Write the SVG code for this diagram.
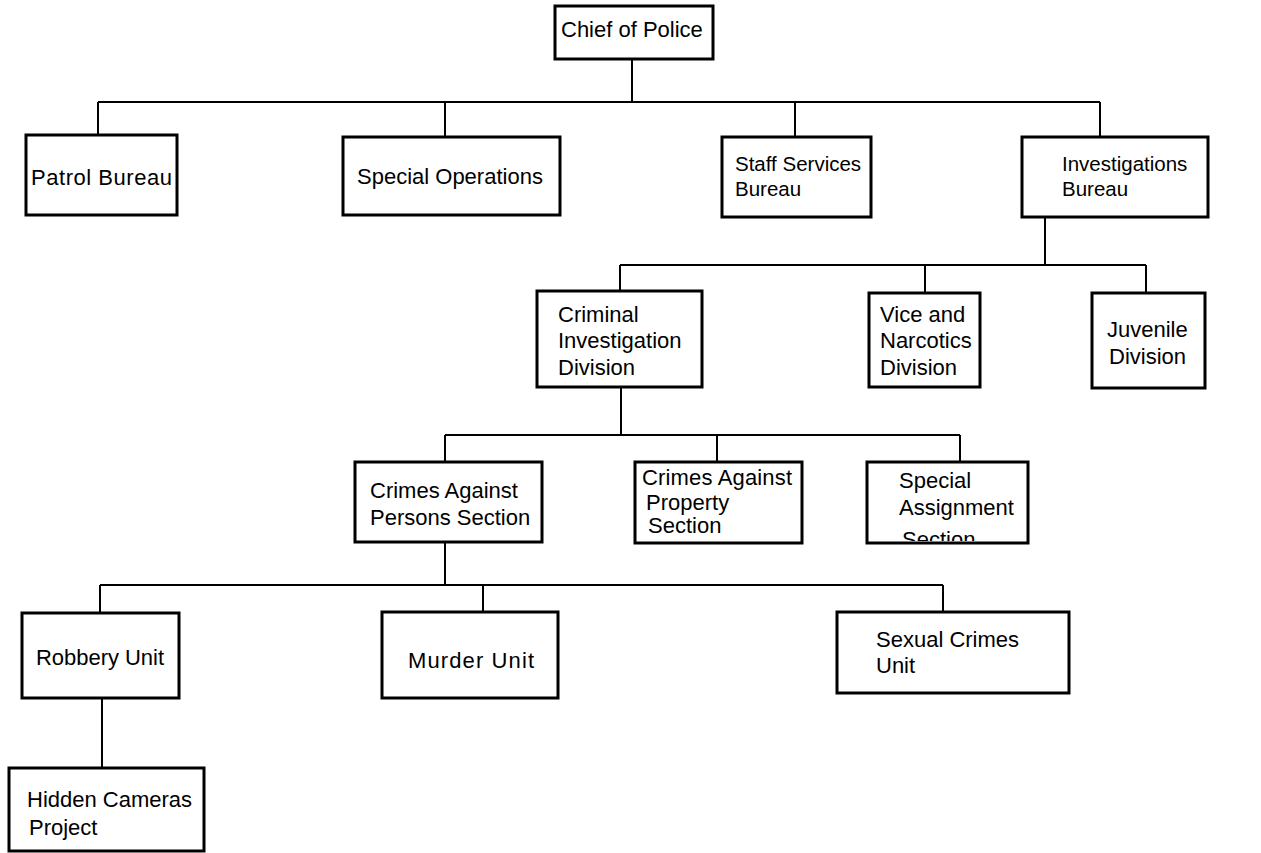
<svg xmlns="http://www.w3.org/2000/svg" width="1261" height="853" viewBox="0 0 1261 853">
<defs>
<style>
.box{fill:#fff;stroke:#000;stroke-width:3}
.ln{fill:none;stroke:#000;stroke-width:2}
text{font-family:"Liberation Sans",Arial,sans-serif;font-size:22px;fill:#000}
.sm{font-size:20.5px}
</style>
<clipPath id="clipSA"><rect x="867" y="462" width="161" height="79"/></clipPath>
</defs>
<rect width="1261" height="853" fill="#fff"/>
<g id="connectors">
<path class="ln" d="M632 59V102M98 102H1100M98 102V135M445 102V137M795 102V137M1100 102V137"/>
<path class="ln" d="M1045 216V265M620 265H1146M620 265V291M925 265V293M1146 265V293"/>
<path class="ln" d="M621 387V435M445 435H960M445 435V462M717 435V462M960 435V462"/>
<path class="ln" d="M445 542V585M100 585H943M100 585V613M483 585V612M943 585V612"/>
<path class="ln" d="M102 698V768"/>
</g>
<g id="chief"><rect class="box" x="555" y="6" width="158" height="53"/><text x="561" y="37">Chief of Police</text></g>
<g id="patrol"><rect class="box" x="26" y="135" width="151" height="80"/><text x="31" y="185" textLength="141" lengthAdjust="spacing">Patrol Bureau</text></g>
<g id="specialops"><rect class="box" x="343" y="137" width="217" height="78"/><text x="357" y="184">Special Operations</text></g>
<g id="staff"><rect class="box" x="722" y="137" width="149" height="80"/><text class="sm" x="735" y="171">Staff Services</text><text class="sm" x="735" y="196">Bureau</text></g>
<g id="investigations"><rect class="box" x="1022" y="137" width="186" height="80"/><text class="sm" x="1062" y="171">Investigations</text><text class="sm" x="1062" y="196">Bureau</text></g>
<g id="cid"><rect class="box" x="537" y="291" width="165" height="96"/><text x="558" y="322">Criminal</text><text x="558" y="348">Investigation</text><text x="558" y="375">Division</text></g>
<g id="vice"><rect class="box" x="869" y="293" width="111" height="94"/><text x="880" y="322">Vice and</text><text x="880" y="348">Narcotics</text><text x="880" y="375">Division</text></g>
<g id="juvenile"><rect class="box" x="1092" y="293" width="113" height="95"/><text x="1107" y="337">Juvenile</text><text x="1109" y="364">Division</text></g>
<g id="persons"><rect class="box" x="355" y="462" width="187" height="80"/><text x="370" y="498">Crimes Against</text><text x="370" y="525">Persons Section</text></g>
<g id="property"><rect class="box" x="635" y="462" width="167" height="81"/><text x="642" y="485" textLength="150">Crimes Against</text><text x="646" y="510">Property</text><text x="648" y="533">Section</text></g>
<g id="specialassign"><text x="899" y="488">Special</text><text x="899" y="515">Assignment</text><text x="902" y="547" clip-path="url(#clipSA)">Section</text><rect x="867" y="462" width="161" height="81" fill="none" stroke="#000" stroke-width="3"/></g>
<g id="robbery"><rect class="box" x="22" y="613" width="157" height="85"/><text x="36" y="665" textLength="128" lengthAdjust="spacing">Robbery Unit</text></g>
<g id="murder"><rect class="box" x="382" y="612" width="176" height="86"/><text x="408" y="668" textLength="126" lengthAdjust="spacing">Murder Unit</text></g>
<g id="sexual"><rect class="box" x="837" y="612" width="232" height="81"/><text x="876" y="647">Sexual Crimes</text><text x="876" y="673">Unit</text></g>
<g id="hidden"><rect class="box" x="9" y="768" width="195" height="83"/><text x="27" y="807">Hidden Cameras</text><text x="29" y="835">Project</text></g>
</svg>
